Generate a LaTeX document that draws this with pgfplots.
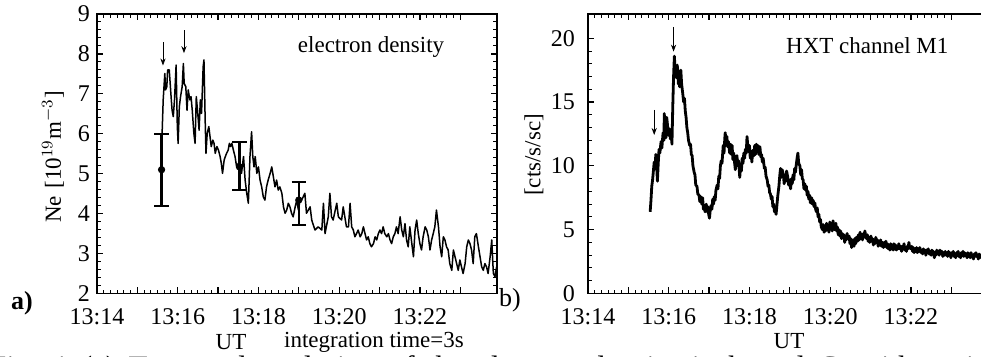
\documentclass[border=0pt]{standalone}
\usepackage{pgfplots}
\pgfplotsset{compat=1.18}
\usepackage{fontspec}
\setmainfont{Liberation Serif}
\usetikzlibrary{arrows.meta}

\pgfplotsset{
  panel/.style={
    scale only axis, width=200pt, height=139.75pt,
    anchor=south west,
    xmin=0, xmax=9.91,
    xtick={0,1,2,3,4,5,6,7,8,9},
    xticklabels={13:14,,13:16,,13:18,,13:20,,13:22,},
    minor x tick num=5,
    tick align=inside,
    tick pos=both,
    major tick length=3.2pt, minor tick length=1.8pt,
    tick style={black, line width=0.6pt},
    minor tick style={black, line width=0.5pt},
    axis line style={line width=0.7pt},
    /pgf/number format/assume math mode=true,
    ticklabel style={font=\fontsize{12}{13}\selectfont},
    xticklabel style={yshift=-4pt},
    clip=true,
  }
}

\begin{document}
\begin{tikzpicture}
\useasboundingbox (0,0) rectangle (490.5pt,178.5pt);
\clip (0,0) rectangle (490.5pt,178.5pt);

% ---------- panel a ----------
\begin{axis}[panel, at={(48.5pt,31.75pt)},
  ymin=2, ymax=9, ytick={2,3,4,5,6,7,8,9}, minor y tick num=4]
\addplot[black, line width=0.75pt, line join=round] coordinates {
(1.60,5.60)(1.64,6.85)(1.68,7.51)(1.70,7.10)(1.73,7.18)(1.75,7.60)(1.79,7.60)
(1.83,7.01)(1.86,6.59)(1.89,6.43)(1.92,6.85)(1.96,7.72)(1.99,6.18)(2.01,5.76)
(2.04,6.68)(2.07,6.93)(2.11,7.18)(2.14,7.76)(2.16,7.26)(2.20,7.18)(2.23,6.59)
(2.26,7.10)(2.30,6.85)(2.33,6.93)(2.36,6.59)(2.40,6.01)(2.43,5.76)(2.46,6.93)
(2.49,6.59)(2.53,6.09)(2.56,6.85)(2.59,6.51)(2.63,7.68)(2.65,7.85)(2.68,6.34)
(2.70,5.51)(2.73,6.01)(2.77,6.18)(2.80,5.93)(2.83,5.68)(2.87,5.84)(2.90,5.76)
(2.93,5.51)(2.97,5.68)(3.01,5.59)(3.05,5.43)(3.08,5.26)(3.11,5.01)(3.15,5.34)
(3.18,5.43)(3.21,5.51)(3.25,5.59)(3.28,5.76)(3.31,5.68)(3.34,5.76)(3.38,5.59)
(3.42,5.43)(3.46,5.17)(3.50,5.26)(3.54,5.26)(3.58,5.01)(3.63,5.43)(3.67,4.84)
(3.71,4.51)(3.75,4.26)(3.79,5.43)(3.83,6.05)(3.86,5.43)(3.89,5.17)(3.92,5.43)
(3.96,5.01)(4.00,5.17)(4.04,4.84)(4.08,4.67)(4.12,4.42)(4.16,4.34)(4.20,4.67)
(4.24,4.84)(4.29,5.01)(4.33,5.17)(4.37,4.92)(4.41,4.67)(4.45,4.84)(4.49,4.59)
(4.53,4.67)(4.58,4.51)(4.62,4.17)(4.66,4.01)(4.70,4.09)(4.74,4.26)(4.78,4.17)
(4.82,4.01)(4.86,3.92)(4.91,4.17)(4.95,4.34)(4.99,4.09)(5.03,4.34)(5.07,4.34)
(5.15,4.51)(5.19,4.01)(5.28,4.17)(5.32,3.84)(5.40,3.59)(5.48,3.67)(5.57,3.59)
(5.61,4.26)(5.65,3.50)(5.73,3.92)(5.77,4.51)(5.81,3.92)(5.85,3.84)(5.94,4.26)
(5.98,3.92)(6.06,3.84)(6.10,4.17)(6.14,3.92)(6.18,3.67)(6.23,3.67)(6.27,4.26)
(6.31,3.67)(6.35,3.59)(6.39,3.42)(6.43,3.50)(6.47,3.59)(6.52,3.42)(6.56,3.50)
(6.60,3.67)(6.64,3.50)(6.68,3.34)(6.72,3.42)(6.76,3.25)(6.80,3.17)(6.85,3.25)
(6.89,3.42)(6.93,3.34)(6.97,3.50)(7.01,3.59)(7.05,3.50)(7.09,3.67)(7.13,3.50)
(7.18,3.42)(7.22,3.50)(7.26,3.34)(7.30,3.25)(7.34,3.42)(7.38,3.50)(7.42,3.67)
(7.46,3.50)(7.51,3.92)(7.55,3.59)(7.59,3.42)(7.63,3.75)(7.67,3.34)(7.71,3.17)
(7.75,3.67)(7.80,3.25)(7.84,2.92)(7.88,3.59)(7.92,3.84)(7.96,3.50)(8.00,3.25)
(8.04,3.09)(8.08,3.42)(8.13,3.67)(8.17,3.59)(8.21,3.42)(8.25,3.09)(8.29,3.34)
(8.33,3.50)(8.37,3.67)(8.41,4.09)(8.46,3.67)(8.50,3.17)(8.54,2.92)(8.58,3.42)
(8.62,3.34)(8.66,3.17)(8.70,3.09)(8.74,2.75)(8.79,2.58)(8.83,3.09)(8.87,2.92)
(8.91,2.75)(8.95,2.58)(8.99,2.84)(9.03,2.67)(9.07,2.50)(9.12,2.75)(9.16,3.17)
(9.20,3.34)(9.24,3.25)(9.28,3.09)(9.32,2.75)(9.36,3.42)(9.40,3.50)(9.45,3.17)
(9.49,2.92)(9.53,2.67)(9.57,2.58)(9.61,2.75)(9.65,2.67)(9.69,2.50)(9.74,2.92)
(9.78,3.34)(9.82,2.50)(9.86,2.42)(9.90,2.67)(9.94,2.25)
};
\addplot[black, only marks, mark=*, mark size=1.6pt,
  error bars/.cd, y dir=both, y explicit,
  error bar style={line width=1.1pt},
  error mark options={rotate=90, mark size=3.6pt, line width=0.9pt}]
  coordinates {
  (1.60,5.10) += (0,0.90) -= (0,0.90)
  (3.53,5.17) += (0,0.63) -= (0,0.58)
  (5.00,4.34) += (0,0.46) -= (0,0.63)
};
\draw[-{Stealth[length=3.5pt,width=2.6pt]}, line width=0.45pt] (axis cs:1.635,8.29) -- (axis cs:1.635,7.71);
\draw[-{Stealth[length=3.5pt,width=2.6pt]}, line width=0.45pt] (axis cs:2.155,8.59) -- (axis cs:2.155,8.02);
\node[font=\fontsize{11.5}{13}\selectfont] at (axis cs:6.79,8.17) {electron density};
\end{axis}

% ---------- panel b ----------
\begin{axis}[panel, at={(294pt,31.75pt)},
  ymin=0, ymax=21.9, ytick={0,5,10,15,20}, minor y tick num=4,
  yticklabel style={xshift=-3pt}]
\addplot[black, line width=1.4pt, line join=round] coordinates {
(1.54,6.4)(1.56,7.3)(1.58,8.4)(1.60,8.9)(1.62,9.6)(1.64,10.3)(1.66,9.8)(1.68,10.9)
(1.70,10.0)(1.72,8.8)(1.74,10.2)(1.76,11.3)(1.78,11.0)(1.81,11.9)(1.83,11.4)(1.86,12.6)
(1.88,12.0)(1.89,14.1)(1.91,12.6)(1.93,12.2)(1.95,13.8)(1.97,13.2)(1.99,12.4)(2.02,12.9)
(2.04,12.1)(2.06,12.8)(2.08,11.7)(2.10,14.6)(2.12,17.0)(2.14,18.6)(2.16,17.4)(2.19,16.9)
(2.21,17.9)(2.22,17.6)(2.24,16.4)(2.25,16.9)(2.27,16.2)(2.30,17.5)(2.32,16.4)(2.35,15.6)
(2.37,15.0)(2.39,15.3)(2.41,14.3)(2.43,13.8)(2.45,13.0)(2.47,12.6)(2.49,12.0)(2.52,11.6)
(2.54,11.7)(2.56,10.9)(2.58,10.8)(2.60,10.0)(2.63,9.5)(2.65,9.3)(2.67,8.5)(2.70,8.4)
(2.72,7.8)(2.75,7.7)(2.77,7.2)(2.79,7.6)(2.82,7.0)(2.84,7.5)(2.86,6.6)(2.88,6.9)
(2.90,6.4)(2.93,7.0)(2.95,6.4)(2.97,6.8)(2.99,6.2)(3.01,5.9)(3.03,6.6)(3.05,6.9)
(3.07,6.6)(3.09,7.4)(3.11,7.0)(3.13,7.6)(3.15,7.3)(3.17,8.1)(3.20,8.5)(3.22,8.2)
(3.24,9.2)(3.26,9.0)(3.28,10.0)(3.30,10.4)(3.32,10.2)(3.35,11.6)(3.37,11.0)(3.39,12.2)
(3.40,12.6)(3.42,11.8)(3.44,12.3)(3.46,11.5)(3.48,11.9)(3.51,11.0)(3.53,11.7)(3.55,10.9)
(3.57,11.6)(3.59,10.5)(3.61,11.0)(3.63,10.3)(3.65,9.7)(3.67,10.6)(3.69,10.8)(3.71,10.0)
(3.73,10.4)(3.76,9.1)(3.78,10.0)(3.80,9.6)(3.82,10.6)(3.84,10.2)(3.86,11.0)(3.88,10.6)
(3.90,11.3)(3.92,11.0)(3.94,12.3)(3.96,11.5)(3.98,11.1)(4.00,11.6)(4.02,10.6)(4.04,11.0)
(4.06,10.3)(4.08,11.2)(4.11,10.8)(4.13,11.6)(4.15,10.9)(4.17,11.7)(4.19,11.2)(4.21,11.6)
(4.23,10.9)(4.26,11.5)(4.28,10.7)(4.30,10.9)(4.32,10.3)(4.34,10.6)(4.37,9.8)(4.39,9.9)
(4.41,9.2)(4.44,8.9)(4.46,8.4)(4.48,8.5)(4.50,7.9)(4.52,7.8)(4.54,7.4)(4.56,7.6)
(4.58,6.8)(4.60,7.0)(4.62,6.4)(4.64,6.6)(4.66,6.2)(4.68,6.9)(4.70,7.6)(4.73,8.4)
(4.75,9.2)(4.77,9.8)(4.79,9.1)(4.81,9.7)(4.84,9.3)(4.86,8.6)(4.88,9.2)(4.90,8.8)
(4.92,9.6)(4.95,9.1)(4.97,8.5)(4.99,8.9)(5.02,8.2)(5.04,9.0)(5.06,8.6)(5.08,9.3)
(5.10,8.9)(5.12,9.8)(5.14,9.5)(5.16,10.1)(5.18,10.6)(5.20,11.0)(5.22,10.2)(5.25,10.0)
(5.27,9.3)(5.29,9.7)(5.31,9.0)(5.33,8.9)(5.35,8.2)(5.37,8.6)(5.39,8.1)(5.41,8.4)
(5.43,7.7)(5.45,8.0)(5.47,7.4)(5.49,7.7)(5.51,7.1)(5.54,7.5)(5.56,7.0)(5.58,7.3)
(5.60,6.8)(5.62,7.1)(5.64,6.6)(5.66,6.4)(5.68,6.7)(5.70,6.0)(5.72,6.2)(5.74,5.6)
(5.76,5.8)(5.78,5.2)(5.81,5.0)(5.83,5.4)(5.85,4.8)(5.87,5.2)(5.89,4.9)(5.91,5.5)
(5.93,5.0)(5.95,5.3)(5.97,4.8)(5.99,5.6)(6.01,5.1)(6.03,5.4)(6.05,4.9)(6.07,5.7)
(6.09,5.2)(6.11,5.0)(6.14,5.5)(6.16,4.9)(6.18,5.2)(6.20,4.6)(6.22,5.0)(6.24,4.5)
(6.26,4.9)(6.28,4.3)(6.30,4.7)(6.32,4.4)(6.34,4.6)(6.36,4.0)(6.38,4.5)(6.40,4.2)
(6.42,4.7)(6.44,4.3)(6.47,4.5)(6.49,3.9)(6.51,4.3)(6.53,3.6)(6.55,4.2)(6.57,4.0)
(6.59,3.7)(6.61,4.3)(6.63,3.9)(6.65,4.4)(6.68,4.1)(6.70,4.6)(6.72,4.2)(6.74,4.8)
(6.76,4.3)(6.78,4.6)(6.80,4.2)(6.82,4.7)(6.84,4.4)(6.86,4.9)(6.88,4.5)(6.90,4.3)
(6.92,4.6)(6.94,4.1)(6.96,4.4)(6.98,4.0)(7.01,4.5)(7.03,4.1)(7.05,4.3)(7.07,3.8)
(7.09,4.2)(7.11,3.9)(7.13,4.4)(7.15,4.0)(7.17,4.2)(7.19,3.7)(7.21,4.1)(7.23,3.8)
(7.25,4.2)(7.27,3.7)(7.30,4.0)(7.32,3.6)(7.34,4.0)(7.36,3.7)(7.38,4.1)(7.40,3.6)
(7.42,3.9)(7.44,3.5)(7.46,3.8)(7.48,3.4)(7.50,3.9)(7.52,3.6)(7.54,3.8)(7.56,3.4)
(7.58,3.9)(7.60,3.5)(7.62,3.8)(7.64,3.4)(7.66,3.7)(7.68,3.5)(7.70,3.9)(7.72,3.5)
(7.75,3.7)(7.77,3.3)(7.79,3.7)(7.81,3.5)(7.83,3.9)(7.85,3.4)(7.87,3.6)(7.89,3.3)
(7.91,3.7)(7.93,3.5)(7.95,4.0)(7.97,3.6)(8.00,3.5)(8.02,3.7)(8.04,3.3)(8.06,3.6)
(8.08,3.2)(8.10,3.5)(8.12,3.3)(8.14,3.6)(8.16,3.2)(8.18,3.5)(8.20,3.3)(8.22,3.6)
(8.25,3.2)(8.27,3.4)(8.29,3.1)(8.31,3.5)(8.33,3.2)(8.35,3.4)(8.37,3.0)(8.39,3.4)
(8.41,3.2)(8.43,3.5)(8.45,3.1)(8.47,3.3)(8.50,3.0)(8.52,3.4)(8.54,3.1)(8.56,3.3)
(8.58,2.8)(8.60,3.2)(8.62,3.0)(8.64,3.4)(8.66,3.1)(8.68,3.3)(8.70,3.0)(8.72,3.4)
(8.75,3.1)(8.77,3.3)(8.79,2.9)(8.81,3.2)(8.83,3.0)(8.85,3.3)(8.87,3.0)(8.89,3.2)
(8.91,2.9)(8.93,3.3)(8.95,3.0)(8.97,3.2)(8.99,2.8)(9.01,3.2)(9.03,3.0)(9.05,3.3)
(9.07,2.9)(9.09,3.1)(9.11,2.8)(9.13,3.2)(9.15,3.0)(9.17,3.3)(9.19,2.9)(9.21,3.1)
(9.23,2.8)(9.25,3.2)(9.27,3.0)(9.29,3.3)(9.31,2.9)(9.33,3.2)(9.35,3.0)(9.37,3.1)
(9.39,2.8)(9.41,3.2)(9.43,2.9)(9.45,3.1)(9.47,2.8)(9.49,3.2)(9.51,2.9)(9.53,3.0)
(9.55,2.7)(9.57,3.1)(9.59,2.9)(9.61,3.2)(9.63,2.9)(9.65,3.0)(9.67,2.7)(9.69,3.1)
(9.71,2.8)(9.73,3.0)(9.75,2.8)(9.77,3.1)(9.79,2.8)(9.81,3.0)(9.83,2.7)(9.85,3.1)
(9.87,2.9)(9.89,3.0)(9.91,2.8)
};
\draw[-{Stealth[length=3.5pt,width=2.6pt]}, line width=0.45pt] (axis cs:1.64,14.38) -- (axis cs:1.64,12.42);
\draw[-{Stealth[length=3.5pt,width=2.6pt]}, line width=0.45pt] (axis cs:2.12,20.9) -- (axis cs:2.12,18.95);
\node[font=\fontsize{11.5}{13}\selectfont] at (axis cs:6.92,19.4) {HXT channel M1};
\end{axis}

% ---------- labels ----------
\node[rotate=90, font=\fontsize{11.5}{13}\selectfont] at (26.5pt,100pt) {Ne\,\,[10$^{19}$m$^{-3}$]};
\node[rotate=90, font=\fontsize{11.5}{13}\selectfont] at (267pt,101pt) {[cts/s/sc]};
\node[font=\fontsize{13}{15}\selectfont\bfseries] at (11pt,27pt) {a)};
\node[font=\fontsize{13}{15}\selectfont] at (255pt,28.5pt) {b)};
\node[font=\fontsize{11.5}{13}\selectfont] at (115.5pt,7.25pt) {UT};
\node[font=\fontsize{11.5}{13}\selectfont] at (187pt,7.5pt) {integration time=3s};
\node[font=\fontsize{11.5}{13}\selectfont] at (394.5pt,7.75pt) {UT};
\node[anchor=base west, font=\fontsize{15.5}{17}\selectfont] at (-9pt,-10.5pt)
  {\spaceskip=6.2pt Fig.~4.\hspace{4pt}(a) Temporal evolution of the electron density in kernel C, with typical error bars};
\end{tikzpicture}
\end{document}
